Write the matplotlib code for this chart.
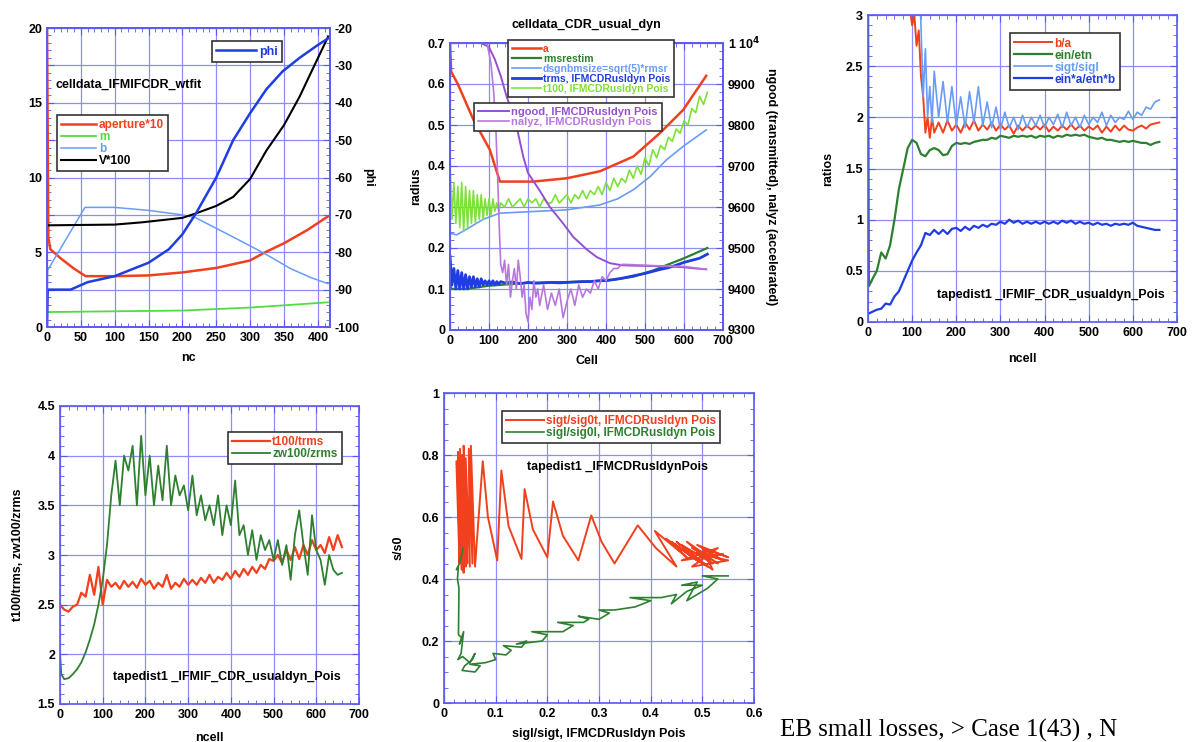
import numpy as np
import matplotlib
matplotlib.use('Agg')
import matplotlib.pyplot as plt
from matplotlib.ticker import AutoMinorLocator, FuncFormatter

plt.rcParams['font.family'] = ['Liberation Sans', 'DejaVu Sans']
plt.rcParams['font.weight'] = 'bold'
plt.rcParams['axes.labelweight'] = 'bold'
plt.rcParams['font.size'] = 9
plt.rcParams['axes.unicode_minus'] = False

GRID = '#8c8cff'
SPINE = '#5a5af0'
RED = '#f0401e'
DKGREEN = '#2e8030'
LTGREEN = '#7ee03a'
LTBLUE = '#6a9cf5'
BLUE = '#1f3de0'
PURPLE = '#9650cc'
VIOLET = '#b877dd'

# ---------------- panel 1 : celldata_IFMIFCDR_wtfit
nc_ap = [0, 2, 5, 20, 40, 57, 100, 150, 200, 250, 300, 320, 350, 385, 415]
aperture10 = [20, 6.0, 5.2, 4.6, 3.9, 3.4, 3.4, 3.45, 3.65, 3.95, 4.45, 4.95, 5.6, 6.5, 7.4]
nc_m = [0, 100, 200, 250, 300, 350, 415]
m_vals = [1.0, 1.05, 1.1, 1.2, 1.3, 1.45, 1.65]
nc_b = [0, 1, 56, 100, 150, 200, 220, 250, 280, 320, 360, 390, 415]
b_vals = [0, 3.8, 8.0, 8.0, 7.8, 7.5, 7.3, 6.6, 5.9, 4.95, 3.9, 3.3, 2.9]
nc_v = [0, 100, 140, 200, 220, 250, 275, 300, 324, 350, 373, 395, 415]
v100 = [6.8, 6.85, 7.0, 7.3, 7.6, 8.1, 8.7, 9.9, 11.8, 13.5, 15.4, 17.5, 19.4]
nc_phi = [0, 1, 35, 60, 100, 150, 180, 200, 220, 250, 275, 300, 324, 348, 373, 398, 415]
phi = [-100, -90, -90, -88, -86.4, -82.8, -79.2, -75.2, -69.6, -60, -50, -42.8, -36.4,
       -31.6, -28, -24.8, -22.8]

# ---------------- panel 2 : celldata_CDR_usual_dyn
cell_a = [0, 3, 20, 60, 102, 128, 213, 299, 384, 470, 538, 598, 657]
a_vals = [0.7, 0.63, 0.6, 0.513, 0.44, 0.362, 0.362, 0.37, 0.387, 0.423, 0.48, 0.537, 0.62]
cell_rms = [0, 3, 40, 100, 200, 300, 400, 470, 520, 560, 600, 660]
rmsrestim = [0.17, 0.1, 0.1, 0.108, 0.115, 0.117, 0.12, 0.13, 0.145, 0.16, 0.175, 0.2]
cell_dsg = [0, 17, 50, 85, 128, 213, 299, 384, 430, 470, 513, 555, 598, 657]
dsgnbm = [0.236, 0.232, 0.25, 0.27, 0.285, 0.289, 0.293, 0.305, 0.32, 0.342, 0.374, 0.415,
          0.448, 0.488]
cell_trms = np.concatenate([np.arange(0, 131, 5), np.arange(140, 661, 20)])
trms = [0.18, 0.11, 0.15, 0.10, 0.145, 0.10, 0.14, 0.10, 0.135, 0.10,
        0.13, 0.105, 0.13, 0.105, 0.125, 0.105, 0.125, 0.11, 0.12, 0.11,
        0.12, 0.11, 0.12, 0.11, 0.118, 0.112, 0.118,
        0.115, 0.117, 0.113, 0.116, 0.114, 0.115, 0.116, 0.115, 0.116, 0.117,
        0.118, 0.118, 0.12, 0.121, 0.123, 0.126, 0.13, 0.134, 0.138, 0.143,
        0.148, 0.152, 0.158, 0.165, 0.17, 0.175, 0.185]
cell_t100 = np.concatenate([np.arange(0, 131, 5), np.arange(140, 661, 10)])
t100 = [0.40, 0.27, 0.36, 0.26, 0.35, 0.25, 0.36, 0.24, 0.35, 0.25,
        0.34, 0.26, 0.34, 0.26, 0.33, 0.27, 0.33, 0.27, 0.32, 0.28,
        0.32, 0.28, 0.32, 0.29, 0.31, 0.29, 0.31,
        0.30, 0.32, 0.30, 0.31, 0.32, 0.30, 0.32, 0.31, 0.32, 0.30,
        0.32, 0.31, 0.31, 0.33, 0.31, 0.32, 0.33, 0.31, 0.33, 0.32,
        0.34, 0.32, 0.34, 0.33, 0.35, 0.33, 0.36, 0.34, 0.37, 0.35,
        0.37, 0.36, 0.39, 0.37, 0.40, 0.38, 0.42, 0.40, 0.44, 0.42,
        0.45, 0.44, 0.47, 0.46, 0.49, 0.48, 0.51, 0.50, 0.54, 0.53,
        0.57, 0.55, 0.58]
cell_ngood = [0, 80, 100, 115, 130, 145, 160, 171, 188, 200, 230, 256, 290, 316, 350, 376,
              410, 440, 470, 520, 560, 600, 630, 657]
ngood = [10000, 10000, 9990, 9960, 9920, 9870, 9830, 9795, 9722, 9683, 9640, 9600, 9560,
         9527, 9497, 9478, 9463, 9458, 9457, 9456, 9455, 9453, 9450, 9448]
cell_nalyz = ([0, 95, 105, 112, 118, 122, 126, 130] + list(range(135, 231, 5))
              + list(range(240, 451, 10)) + [500, 550, 600, 657])
nalyz = [10000, 10000, 9950, 9880, 9780, 9680, 9560, 9460,
         9440, 9470, 9410, 9460, 9380, 9420, 9450, 9400, 9470, 9430,
         9380, 9410, 9340, 9320, 9380, 9350, 9420, 9380, 9400, 9360,
         9410, 9350, 9390, 9360, 9400, 9330, 9370, 9400, 9360, 9410,
         9380, 9400, 9390, 9420, 9400, 9430, 9420, 9440, 9450, 9450, 9460, 9460,
         9458, 9456, 9455, 9448]

# ---------------- panel 3 : ratios
cell_ba = list(range(90, 151, 5)) + list(range(160, 661, 10))
ba = [3.3, 3.05, 2.9, 3.0, 2.7, 2.85, 2.4, 2.2, 1.85, 2.0, 1.8, 2.0, 1.85,
      1.95, 1.85, 1.97, 1.87, 1.93, 1.85, 1.95, 1.88, 1.97, 1.87,
      1.93, 1.88, 1.95, 1.87, 1.93, 1.88, 1.92, 1.84, 1.92, 1.87,
      1.92, 1.88, 1.92, 1.88, 1.93, 1.86, 1.91, 1.87, 1.92, 1.88,
      1.93, 1.88, 1.92, 1.87, 1.91, 1.88, 1.92, 1.85, 1.91, 1.86,
      1.92, 1.87, 1.92, 1.88, 1.87, 1.90, 1.92, 1.89, 1.93, 1.94,
      1.95]
cell_ss = [118, 120, 125, 130, 135, 140, 145, 150] + list(range(160, 661, 10))
sigt_sigl = [3.2, 2.9, 2.2, 2.67, 2.0, 2.3, 1.95, 2.45,
             2.0, 2.35, 1.95, 2.3, 1.92, 2.2, 1.9, 2.25, 1.95, 2.3,
             1.92, 2.15, 1.9, 2.1, 1.88, 2.05, 1.9, 2.0, 1.88, 2.02,
             1.9, 2.0, 1.92, 2.02, 1.9, 2.0, 1.93, 2.03, 1.9, 2.05,
             1.92, 2.0, 1.9, 2.02, 1.93, 2.0, 1.95, 2.05, 1.92, 2.02,
             1.95, 2.0, 1.98, 2.06, 1.98, 2.05, 2.02, 2.1, 2.08, 2.15,
             2.17]
cell_ein = [0, 2] + list(range(10, 661, 10))
ein_etn = [3.1, 0.35,
           0.42, 0.5, 0.68, 0.62, 0.75, 1.0, 1.3, 1.5, 1.7,
           1.78, 1.75, 1.64, 1.62, 1.68, 1.7, 1.68, 1.63, 1.64, 1.72,
           1.75, 1.74, 1.75, 1.74, 1.76, 1.77, 1.78, 1.78, 1.8, 1.79,
           1.82, 1.81, 1.8, 1.82, 1.81, 1.82, 1.81, 1.82, 1.8, 1.82,
           1.81, 1.82, 1.8, 1.82, 1.81, 1.83, 1.82, 1.83, 1.82, 1.83,
           1.81, 1.8, 1.79, 1.8, 1.78, 1.78, 1.77, 1.76, 1.77, 1.76,
           1.77, 1.76, 1.75, 1.75, 1.73, 1.75, 1.76]
cell_r = np.arange(0, 661, 10)
ein_a_etn_b = [0.08, 0.1, 0.12, 0.13, 0.18, 0.17, 0.25, 0.3, 0.4, 0.5,
               0.6, 0.68, 0.75, 0.87, 0.85, 0.9, 0.86, 0.9, 0.86, 0.91,
               0.92, 0.89, 0.93, 0.9, 0.94, 0.92, 0.95, 0.93, 0.96, 0.95,
               0.98, 0.96, 1.0, 0.97, 0.99, 0.96, 0.98, 0.96, 0.98, 0.96,
               0.98, 0.96, 0.98, 0.96, 0.99, 0.97, 0.99, 0.96, 0.98, 0.96,
               0.97, 0.95, 0.97, 0.95, 0.96, 0.94, 0.96, 0.95, 0.96, 0.95,
               0.97, 0.94, 0.93, 0.92, 0.91, 0.9, 0.9]

# ---------------- panel 4 : t100/trms, zw100/zrms
t100_trms = [2.5, 2.45, 2.43, 2.48, 2.5, 2.62, 2.58, 2.8, 2.6, 2.88,
             2.5, 2.75, 2.68, 2.72, 2.66, 2.74, 2.68, 2.73, 2.67, 2.76,
             2.7, 2.74, 2.66, 2.72, 2.68, 2.8, 2.66, 2.72, 2.68, 2.76,
             2.7, 2.75, 2.7, 2.77, 2.72, 2.8, 2.72, 2.78, 2.75, 2.82,
             2.76, 2.84, 2.78, 2.86, 2.8, 2.88, 2.82, 2.9, 2.86, 2.96,
             2.94, 3.0, 2.92, 3.05, 2.95, 3.08, 2.96, 3.1, 3.0, 3.15,
             3.05, 3.1, 3.02, 3.18, 3.05, 3.2, 3.08]
cell_zw = [0, 3] + list(range(10, 661, 10))
zw100_zrms = [2.0, 1.8,
              1.75, 1.76, 1.8, 1.85, 1.92, 2.02, 2.15, 2.3, 2.5,
              2.75, 3.1, 3.6, 3.95, 3.5, 4.0, 3.85, 4.1, 3.5, 4.2,
              3.6, 4.0, 3.5, 3.9, 3.55, 4.1, 3.5, 3.8, 3.6, 3.7,
              3.45, 3.8, 3.4, 3.6, 3.35, 3.5, 3.3, 3.6, 3.2, 3.5,
              3.3, 3.75, 3.2, 3.3, 3.0, 3.25, 2.95, 3.2, 3.05, 3.15,
              2.95, 3.15, 2.9, 3.1, 2.75, 3.2, 3.45, 3.1, 2.8, 3.4,
              3.05, 2.95, 2.7, 3.0, 2.85, 2.8, 2.82]

# ---------------- panel 5 : s/s0 vs sigl/sigt
red_x = [0.040, 0.024, 0.030, 0.027, 0.034, 0.031, 0.038, 0.035, 0.042, 0.038, 0.045,
         0.042, 0.050, 0.048, 0.055, 0.052, 0.060,
         0.075, 0.085, 0.103, 0.111, 0.125, 0.150, 0.156, 0.172, 0.200,
         0.211, 0.230, 0.260, 0.285, 0.305, 0.330, 0.375, 0.410, 0.450,
         0.408, 0.470, 0.430, 0.490, 0.440, 0.500, 0.450, 0.510, 0.460, 0.520, 0.470,
         0.530, 0.480, 0.540, 0.490, 0.550, 0.500, 0.520, 0.470, 0.550, 0.480, 0.530,
         0.460, 0.540]
red_y = [0.50, 0.78, 0.45, 0.81, 0.43, 0.82, 0.42, 0.80, 0.44, 0.83, 0.45,
         0.79, 0.44, 0.82, 0.45, 0.83, 0.44,
         0.78, 0.60, 0.46, 0.75, 0.57, 0.465, 0.69, 0.56, 0.47,
         0.65, 0.54, 0.46, 0.605, 0.52, 0.45, 0.573, 0.50, 0.44,
         0.555, 0.47, 0.53, 0.46, 0.52, 0.45, 0.52, 0.44, 0.51, 0.45, 0.52,
         0.45, 0.50, 0.46, 0.51, 0.47, 0.50, 0.43, 0.49, 0.46, 0.44, 0.50,
         0.46, 0.48]
green_x = [0.037, 0.030, 0.024, 0.028, 0.026, 0.029, 0.028, 0.035, 0.030, 0.038,
           0.033, 0.027, 0.036, 0.050, 0.060, 0.055, 0.040, 0.035, 0.060, 0.070,
           0.050, 0.080, 0.100, 0.095, 0.120, 0.130, 0.115, 0.150, 0.160, 0.140,
           0.190, 0.200, 0.170, 0.230, 0.250, 0.220, 0.270, 0.280, 0.260, 0.300,
           0.320, 0.300, 0.330, 0.370, 0.400, 0.360, 0.420, 0.450, 0.440, 0.470,
           0.500, 0.460, 0.490, 0.470, 0.510, 0.530, 0.500, 0.550]
green_y = [0.50, 0.45, 0.43, 0.44, 0.40, 0.37, 0.22, 0.21, 0.19, 0.23,
           0.16, 0.14, 0.15, 0.13, 0.16, 0.14, 0.12, 0.105, 0.10, 0.12,
           0.125, 0.13, 0.14, 0.16, 0.155, 0.17, 0.185, 0.18, 0.20, 0.19,
           0.20, 0.22, 0.23, 0.23, 0.25, 0.26, 0.26, 0.27, 0.28, 0.27,
           0.29, 0.30, 0.30, 0.31, 0.33, 0.34, 0.34, 0.35, 0.32, 0.36,
           0.38, 0.38, 0.39, 0.33, 0.37, 0.40, 0.41, 0.41]

W, H = 1193, 742
fig = plt.figure(figsize=(W / 100, H / 100), dpi=100)


def box(x0, y0, x1, y1):
    # pixel box -> figure fraction
    return [x0 / W, 1 - y1 / H, (x1 - x0) / W, (y1 - y0) / H]


def gfmt(v, pos):
    return '%g' % v


def style(ax, right=True):
    ax.grid(True, which='major', color=GRID, lw=0.9)
    ax.set_axisbelow(True)
    ax.xaxis.set_minor_locator(AutoMinorLocator())
    ax.yaxis.set_minor_locator(AutoMinorLocator())
    ax.tick_params(which='both', direction='in', color=SPINE, labelcolor='black',
                   top=True, right=right, labelsize=9)
    ax.tick_params(which='major', length=5)
    ax.tick_params(which='minor', length=3)
    ax.xaxis.set_major_formatter(FuncFormatter(gfmt))
    ax.yaxis.set_major_formatter(FuncFormatter(gfmt))
    for s in ax.spines.values():
        s.set_color(SPINE)
        s.set_linewidth(1.2)


def style_twin(ax):
    ax.yaxis.set_minor_locator(AutoMinorLocator())
    ax.tick_params(which='both', direction='in', color=SPINE, labelsize=9)
    ax.tick_params(which='major', length=5)
    ax.tick_params(which='minor', length=3)
    for s in ax.spines.values():
        s.set_color(SPINE)
        s.set_linewidth(1.2)


def legend(ax, handles, size=8.5, hl=3.2, **kw):
    leg = ax.legend(handles=handles, labelcolor='linecolor', fancybox=False,
                    edgecolor='#333333', framealpha=1, handlelength=hl,
                    handletextpad=0.2, labelspacing=0.0, borderpad=0.35,
                    borderaxespad=0, prop={'weight': 'bold', 'size': size}, **kw)
    leg.get_frame().set_linewidth(1.2)
    return leg


# ---------- panel 1
ax1 = fig.add_axes(box(47, 28, 330, 327))
l_ap, = ax1.plot(nc_ap, aperture10, color=RED, lw=1.8, label='aperture*10')
l_m, = ax1.plot(nc_m, m_vals, color='#50dd40', lw=1.3, label='m')
l_b, = ax1.plot(nc_b, b_vals, color=LTBLUE, lw=1.1, label='b')
l_v, = ax1.plot(nc_v, v100, color='black', lw=1.5, label='V*100')
ax1.set_xlim(0, 418)
ax1.set_ylim(0, 20)
ax1.set_xticks(np.arange(0, 401, 50))
ax1.set_yticks(np.arange(0, 20.1, 2.5))
style(ax1, right=False)
ax1.yaxis.set_major_formatter(FuncFormatter(lambda v, p: '%g' % v if v % 5 == 0 else ''))
ax1.set_xlabel('nc', labelpad=6)
ax1.text(0.03, 0.80, 'celldata_IFMIFCDR_wtfit', transform=ax1.transAxes, fontsize=9)
ax1b = ax1.twinx()
l_phi, = ax1b.plot(nc_phi, phi, color=BLUE, lw=1.8, label='phi')
ax1b.set_ylim(-100, -20)
ax1b.set_yticks(np.arange(-100, -19, 10))
style_twin(ax1b)
ax1b.set_ylabel('phi', rotation=270, labelpad=10)
legend(ax1b, [l_phi], size=9, loc='upper right', bbox_to_anchor=(0.83, 0.955))
ax1b.add_artist(ax1b.get_legend())
legend(ax1b, [l_ap, l_m, l_b, l_v], hl=3.0, loc='upper left', bbox_to_anchor=(0.035, 0.71))

# ---------- panel 2
ax2 = fig.add_axes(box(450, 43, 723, 330))
l_a, = ax2.plot(cell_a, a_vals, color=RED, lw=1.8, label='a')
l_rms, = ax2.plot(cell_rms, rmsrestim, color=DKGREEN, lw=1.6, label='rmsrestim')
l_dsg, = ax2.plot(cell_dsg, dsgnbm, color=LTBLUE, lw=1.2, label='dsgnbmsize=sqrt(5)*rmsr')
l_trms, = ax2.plot(cell_trms, trms, color=BLUE, lw=2.0, label='trms, IFMCDRusldyn Pois')
l_t100, = ax2.plot(cell_t100, t100, color=LTGREEN, lw=1.2, label='t100, IFMCDRusldyn Pois')
ax2.set_xlim(0, 700)
ax2.set_ylim(0, 0.7)
ax2.set_xticks(np.arange(0, 701, 100))
ax2.set_yticks(np.arange(0, 0.71, 0.1))
style(ax2, right=False)
ax2.set_xlabel('Cell', labelpad=6)
ax2.set_ylabel('radius', labelpad=4)
ax2.set_title('celldata_CDR_usual_dyn', fontsize=9, fontweight='bold', pad=11)
ax2b = ax2.twinx()
l_ng, = ax2b.plot(cell_ngood, ngood, color=PURPLE, lw=1.4, label='ngood, IFMCDRusldyn Pois')
l_na, = ax2b.plot(cell_nalyz, nalyz, color=VIOLET, lw=1.2, label='nalyz, IFMCDRusldyn Pois')
ax2b.set_ylim(9300, 10000)
ax2b.set_yticks(np.arange(9300, 10001, 100))
ax2b.yaxis.set_major_formatter(FuncFormatter(
    lambda v, p: '1 10$^4$' if v >= 10000 else '%d' % v))
style_twin(ax2b)
ax2b.set_ylabel('ngood (transmitted), nalyz (accelerated)', rotation=270, labelpad=12)
legend(ax2b, [l_a, l_rms, l_dsg, l_trms, l_t100], size=7.5, hl=2.8, loc='upper left',
       bbox_to_anchor=(0.212, 1.01))
ax2b.add_artist(ax2b.get_legend())
legend(ax2b, [l_ng, l_na], size=8, hl=2.8, loc='upper left', bbox_to_anchor=(0.088, 0.79))

# ---------- panel 3
ax3 = fig.add_axes(box(868, 15, 1177, 322))
h_ba, = ax3.plot(cell_ba, ba, color=RED, lw=1.4, label='b/a')
h_ein, = ax3.plot(cell_ein, ein_etn, color=DKGREEN, lw=1.6, label='ein/etn')
h_ss, = ax3.plot(cell_ss, sigt_sigl, color=LTBLUE, lw=1.2, label='sigt/sigl')
h_ea, = ax3.plot(cell_r, ein_a_etn_b, color=BLUE, lw=1.6, label='ein*a/etn*b')
ax3.set_xlim(0, 700)
ax3.set_ylim(0, 3)
ax3.set_xticks(np.arange(0, 701, 100))
ax3.set_yticks(np.arange(0, 3.01, 0.5))
style(ax3)
ax3.set_xlabel('ncell', labelpad=10)
ax3.set_ylabel('ratios', labelpad=8)
ax3.text(0.223, 0.088, 'tapedist1 _IFMIF_CDR_usualdyn_Pois', transform=ax3.transAxes,
         fontsize=9, va='center')
legend(ax3, [h_ba, h_ein, h_ss, h_ea], loc='upper left', bbox_to_anchor=(0.46, 0.94))

# ---------- panel 4
ax4 = fig.add_axes(box(60, 406, 359, 704))
h_t, = ax4.plot(cell_r, t100_trms, color=RED, lw=1.6, label='t100/trms')
h_z, = ax4.plot(cell_zw, zw100_zrms, color=DKGREEN, lw=1.3, label='zw100/zrms')
ax4.set_xlim(0, 700)
ax4.set_ylim(1.5, 4.5)
ax4.set_xticks(np.arange(0, 701, 100))
ax4.set_yticks(np.arange(1.5, 4.51, 0.5))
style(ax4)
ax4.set_xlabel('ncell', labelpad=8)
ax4.set_ylabel('t100/trms, zw100/zrms', labelpad=10)
ax4.text(0.177, 0.09, 'tapedist1 _IFMIF_CDR_usualdyn_Pois', transform=ax4.transAxes,
         fontsize=9, va='center')
legend(ax4, [h_t, h_z], loc='upper left', bbox_to_anchor=(0.562, 0.913))

# ---------- panel 5
ax5 = fig.add_axes(box(444, 393, 754, 703))
h_r, = ax5.plot(red_x, red_y, color=RED, lw=1.4, label='sigt/sig0t, IFMCDRusldyn Pois')
h_g, = ax5.plot(green_x, green_y, color=DKGREEN, lw=1.2,
                label='sigl/sig0l, IFMCDRusldyn Pois')
ax5.set_xlim(0, 0.6)
ax5.set_ylim(0, 1)
ax5.set_xticks(np.arange(0, 0.61, 0.1))
ax5.set_yticks(np.arange(0, 1.01, 0.2))
style(ax5)
ax5.set_xlabel('sigl/sigt, IFMCDRusldyn Pois', labelpad=6)
ax5.set_ylabel('s/s0', labelpad=12)
ax5.text(0.268, 0.761, 'tapedist1 _IFMCDRusldynPois', transform=ax5.transAxes,
         fontsize=9, va='center')
legend(ax5, [h_r, h_g], loc='upper left', bbox_to_anchor=(0.187, 0.942))

fig.text(780 / W, 1 - 737 / H, 'EB small losses, > Case 1(43) , N', fontsize=18,
         family=['Liberation Serif', 'DejaVu Serif'], fontweight='normal')

fig.savefig('out.png', dpi=100)
plt.close(fig)
